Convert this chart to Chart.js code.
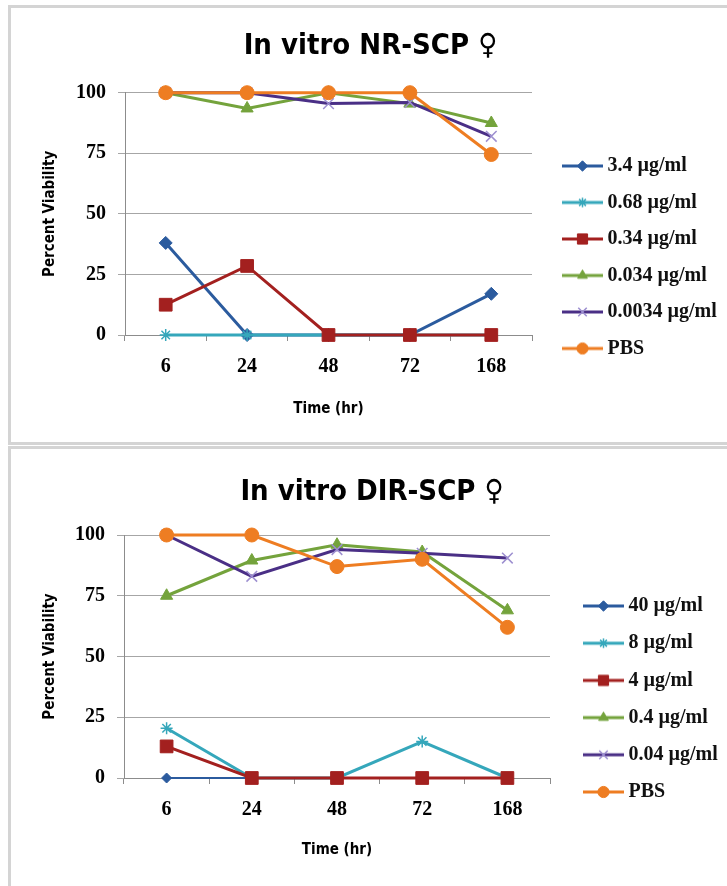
<!DOCTYPE html>
<html>
<head>
<meta charset="utf-8">
<script src="https://cdn.jsdelivr.net/npm/chart.js@4"></script>
<style>
html, body { margin: 0; padding: 0; background: #fff; overflow: hidden; width: 727px; height: 886px; }
.panel { position: absolute; left: 8px; width: 740px; border: 3px solid #d4d4d4; box-sizing: border-box; background: #fff; }
canvas { display: block; }
</style>
</head>
<body>
<div class="panel" style="top:5px; height:440px;"><canvas id="nrChart" width="716" height="434"></canvas></div>
<div class="panel" style="top:446px; height:460px;"><canvas id="dirChart" width="716" height="437"></canvas></div>

<script>
// x categories and y ticks
const timeLabels = ['6', '24', '48', '72', '168'];
const yTicks = [0, 25, 50, 75, 100];

// In vitro NR-SCP (female)
const nrNames = ['3.4 µg/ml', '0.68 µg/ml', '0.34 µg/ml', '0.034 µg/ml', '0.0034 µg/ml', 'PBS'];
const nr_3_4 = [38, 0, 0, 0, 17];
const nr_0_68 = [0, 0, 0, 0, 0];
const nr_0_34 = [12.5, 28.5, 0, 0, 0];
const nr_0_034 = [100, 93.5, 100, 95.5, 87.5];
const nr_0_0034 = [100, 100, 95.5, 96, 82];
const nr_pbs = [100, 100, 100, 100, 74.5];

// In vitro DIR-SCP (female)
const dirNames = ['40 µg/ml', '8 µg/ml', '4 µg/ml', '0.4 µg/ml', '0.04 µg/ml', 'PBS'];
const dir_40 = [0, 0, 0, 0, 0];
const dir_8 = [20.5, 0, 0, 15, 0];
const dir_4 = [13, 0, 0, 0, 0];
const dir_0_4 = [75, 89.5, 96, 93, 69];
const dir_0_04 = [100, 83, 94, 92.5, 90.5];
const dir_pbs = [100, 100, 87, 90, 62];

// series look, same order in both charts
const looks = [
    { color: '#2B5B9E', marker: 'rectRot', radius: 6.5, border: 1 },
    { color: '#35A7BB', marker: 'star', radius: 6, border: 1.5 },
    { color: '#A3201F', marker: 'rect', radius: 9, border: 1 },
    { color: '#74A33C', marker: 'triangle', radius: 7, border: 1 },
    { color: '#4A2F86', marker: 'crossRot', radius: 7.5, border: 1.5, markerColor: '#9D8FD0' },
    { color: '#EE7D22', marker: 'circle', radius: 7, border: 1 }
];

const tickFont = { family: "'Liberation Serif', 'Times New Roman', serif", weight: 'bold', size: 20 };
const axisTitleFont = { family: "'DejaVu Sans Condensed', 'DejaVu Sans', sans-serif", weight: 'bold', size: 15 };
const titleFont = { family: "'DejaVu Sans Condensed', 'DejaVu Sans', sans-serif", weight: 'bold', size: 29 };

// small line+marker picture used as legend symbol
function legendGlyph(look, scale) {
    const c = document.createElement('canvas');
    c.width = 41; c.height = 18;
    const g = c.getContext('2d');
    g.strokeStyle = look.color;
    g.lineWidth = 3;
    g.beginPath(); g.moveTo(0, 9); g.lineTo(41, 9); g.stroke();
    g.fillStyle = look.markerColor || look.color;
    g.strokeStyle = look.markerColor || look.color;
    g.lineWidth = look.border;
    Chart.helpers.drawPoint(g, { pointStyle: look.marker, radius: look.radius * scale, borderWidth: look.border, rotation: 0 }, 20.5, 9);
    return c;
}

// moves legend and title to where the reference has them
const placeBoxes = {
    id: 'placeBoxes',
    afterLayout(chart, args, opts) {
        const lg = chart.legend;
        if (lg) {
            const h = lg.bottom - lg.top;
            lg.left = opts.legendLeft; lg.right = chart.width;
            lg.top = opts.legendTop; lg.bottom = opts.legendTop + h;
        }
        const t = chart.titleBlock;
        if (t) {
            const w = t.right - t.left;
            t.left = opts.titleX - w / 2; t.right = opts.titleX + w / 2;
        }
    }
};

function buildChart(id, title, names, series, p) {
    const glyphs = looks.map(l => legendGlyph(l, 0.8));
    const datasets = series.map((vals, i) => {
        const l = looks[i];
        return {
            label: names[i],
            data: vals,
            borderColor: l.color,
            borderWidth: (p.thinFirst && i === 0) ? 2 : 3,
            backgroundColor: l.markerColor || l.color,
            pointStyle: l.marker,
            pointRadius: (p.thinFirst && i === 0) ? 5 : l.radius,
            pointBackgroundColor: l.markerColor || l.color,
            pointBorderColor: l.markerColor || l.color,
            pointBorderWidth: l.border,
            tension: 0,
            fill: false,
            clip: false,
            order: series.length - i
        };
    });

    return new Chart(document.getElementById(id), {
        type: 'line',
        data: { labels: timeLabels, datasets: datasets },
        plugins: [placeBoxes],
        options: {
            responsive: false,
            animation: false,
            devicePixelRatio: 1,
            layout: { padding: { left: 0, top: 0, right: p.padRight, bottom: p.padBottom } },
            plugins: {
                placeBoxes: { legendLeft: p.legendLeft, legendTop: p.legendTop, titleX: p.titleX },
                title: {
                    display: true,
                    text: title,
                    color: '#000',
                    font: titleFont,
                    padding: { top: p.titleTop, bottom: p.titleBottom }
                },
                legend: {
                    position: 'right',
                    align: 'start',
                    maxWidth: 120,
                    labels: {
                        usePointStyle: true,
                        pointStyleWidth: 30,
                        padding: p.legendGap,
                        color: '#111',
                        font: tickFont,
                        generateLabels: (chart) => chart.data.datasets.map((ds, i) => ({
                            text: ds.label,
                            pointStyle: glyphs[i],
                            datasetIndex: i,
                            hidden: !chart.isDatasetVisible(i),
                            lineWidth: 0,
                            fillStyle: 'transparent',
                            strokeStyle: 'transparent',
                            fontColor: '#111'
                        }))
                    }
                },
                tooltip: { enabled: false }
            },
            scales: {
                x: {
                    type: 'category',
                    offset: true,
                    ticks: { padding: 14, color: '#000', font: tickFont },
                    grid: { offset: true, drawOnChartArea: false, tickLength: 6, color: '#8c8c8c' },
                    border: { color: '#8c8c8c' },
                    title: { display: true, text: 'Time (hr)', color: '#000', font: axisTitleFont, padding: { top: 0, bottom: p.xTitlePad } },
                    afterFit: (s) => { s.height = 100; }
                },
                y: {
                    min: yTicks[0],
                    max: yTicks[yTicks.length - 1],
                    ticks: { stepSize: yTicks[1] - yTicks[0], padding: 12, color: '#000', font: tickFont },
                    grid: { color: '#a6a6a6', tickLength: 7 },
                    border: { color: '#8c8c8c' },
                    title: { display: true, text: 'Percent Viability', color: '#000', font: axisTitleFont, padding: { top: 30, bottom: 0 } },
                    afterFit: (s) => { s.width = p.yWidth; }
                }
            }
        }
    });
}

buildChart('nrChart', 'In vitro NR-SCP ♀', nrNames,
    [nr_3_4, nr_0_68, nr_0_34, nr_0_034, nr_0_0034, nr_pbs],
    { padRight: 75, padBottom: 7, yWidth: 114, xTitlePad: 17, titleTop: 20.6, titleBottom: 29.3,
      legendLeft: 540, legendTop: 131.5, legendGap: 16.5, titleX: 359.5 });

buildChart('dirChart', 'In vitro DIR-SCP ♀', dirNames,
    [dir_40, dir_8, dir_4, dir_0_4, dir_0_04, dir_pbs],
    { padRight: 57, padBottom: 8, yWidth: 113, xTitlePad: 19, titleTop: 25.6, titleBottom: 25.6,
      legendLeft: 560.3, legendTop: 129.8, legendGap: 17.2, titleX: 361, thinFirst: true });
</script>
</body>
</html>
